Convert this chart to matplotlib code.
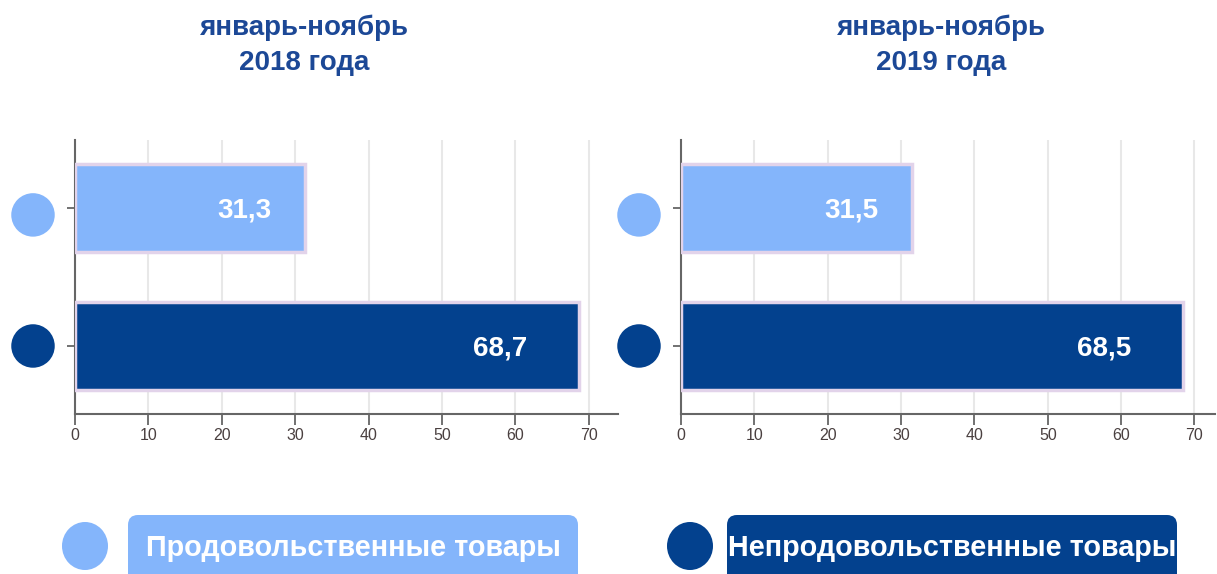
import numpy as np
import matplotlib.pyplot as plt
import matplotlib.transforms as mtransforms
from matplotlib.patches import Ellipse, FancyBboxPatch

plt.rcParams['font.family'] = ['Liberation Sans', 'DejaVu Sans']

categories = ['Продовольственные товары', 'Непродовольственные товары']
titles = ['январь-ноябрь\n2018 года', 'январь-ноябрь\n2019 года']
values_2018 = [31.3, 68.7]
values_2019 = [31.5, 68.5]
xticks = [0, 10, 20, 30, 40, 50, 60, 70]

light = '#84b5fb'
dark = '#03418e'
colors = [light, dark]
title_col = '#1c4896'

fig = plt.figure(figsize=(12.17, 5.74), dpi=100)
W, H = 1217, 574

# (left px, right px, xmax, title centre px, series)
panels = [(75, 618, 74.0, 304, values_2018, titles[0]),
          (681, 1215, 72.8, 941, values_2019, titles[1])]

for left, right, xmax, tcx, vals, title in panels:
    ax = fig.add_axes([left / W, 1 - 414 / H, (right - left) / W, 274 / H])
    y = np.arange(len(vals))
    ax.barh(y, vals, height=0.64, color=colors, edgecolor='#e2d3ea',
            linewidth=2.5, zorder=3)
    ax.set_xlim(0, xmax)
    ax.set_ylim(1.493, -0.493)
    ax.set_xticks(xticks)
    ax.set_xticklabels([str(t) for t in xticks], fontsize=11.5, color='#4a4040',
                       family=['Liberation Sans Narrow', 'Liberation Sans'])
    ax.set_yticks(y)
    ax.set_yticklabels([])
    ax.tick_params(axis='x', length=8, width=1.3, color='#666666', pad=2)
    ax.tick_params(axis='y', length=6, width=1.3, color='#666666')
    ax.grid(axis='x', color='#e8e8e8', linewidth=1.5, zorder=0)
    for s in ['top', 'right']:
        ax.spines[s].set_visible(False)
    for s in ['left', 'bottom']:
        ax.spines[s].set_color('#666666')
        ax.spines[s].set_linewidth(1.5)

    # value labels inside the bars
    for yi, v in zip(y, vals):
        ax.text(v - (6 + 0.07 * v), yi + 0.02, f'{v:.1f}'.replace('.', ','),
                ha='center', va='center', color='white', fontsize=20,
                fontweight='bold', zorder=4)

    # round markers in place of category labels
    tr = mtransforms.blended_transform_factory(ax.transAxes, ax.transData) + \
        mtransforms.ScaledTranslation(-42 / 100, 0, fig.dpi_scale_trans)
    ax.scatter([0, 0], y + np.array([0.05, 0.0]), s=980, c=colors,
               transform=tr, clip_on=False, zorder=5, linewidths=0)

    fig.text(tcx / W, 1 - 45 / H, title, ha='center', va='center',
             fontsize=20, fontweight='bold', color=title_col, linespacing=1.45)

# legend drawn in pixel coordinates
lax = fig.add_axes([0, 0, 1, 1])
lax.set_xlim(0, W)
lax.set_ylim(H, 0)
lax.axis('off')
legend_items = [(85, 128, 578), (690, 727, 1177)]
for (cx, bx0, bx1), lab, col in zip(legend_items, categories, colors):
    lax.add_patch(Ellipse((cx, 546), 46, 48, color=col, lw=0))
    lax.add_patch(FancyBboxPatch((bx0 + 10, 525), bx1 - bx0 - 20, 70,
                                 boxstyle='round,pad=10', color=col, lw=0))
    lax.text((bx0 + bx1) / 2, 548, lab, ha='center', va='center',
             color='white', fontsize=20.7, fontweight='bold')

fig.savefig('out.png', dpi=100)
